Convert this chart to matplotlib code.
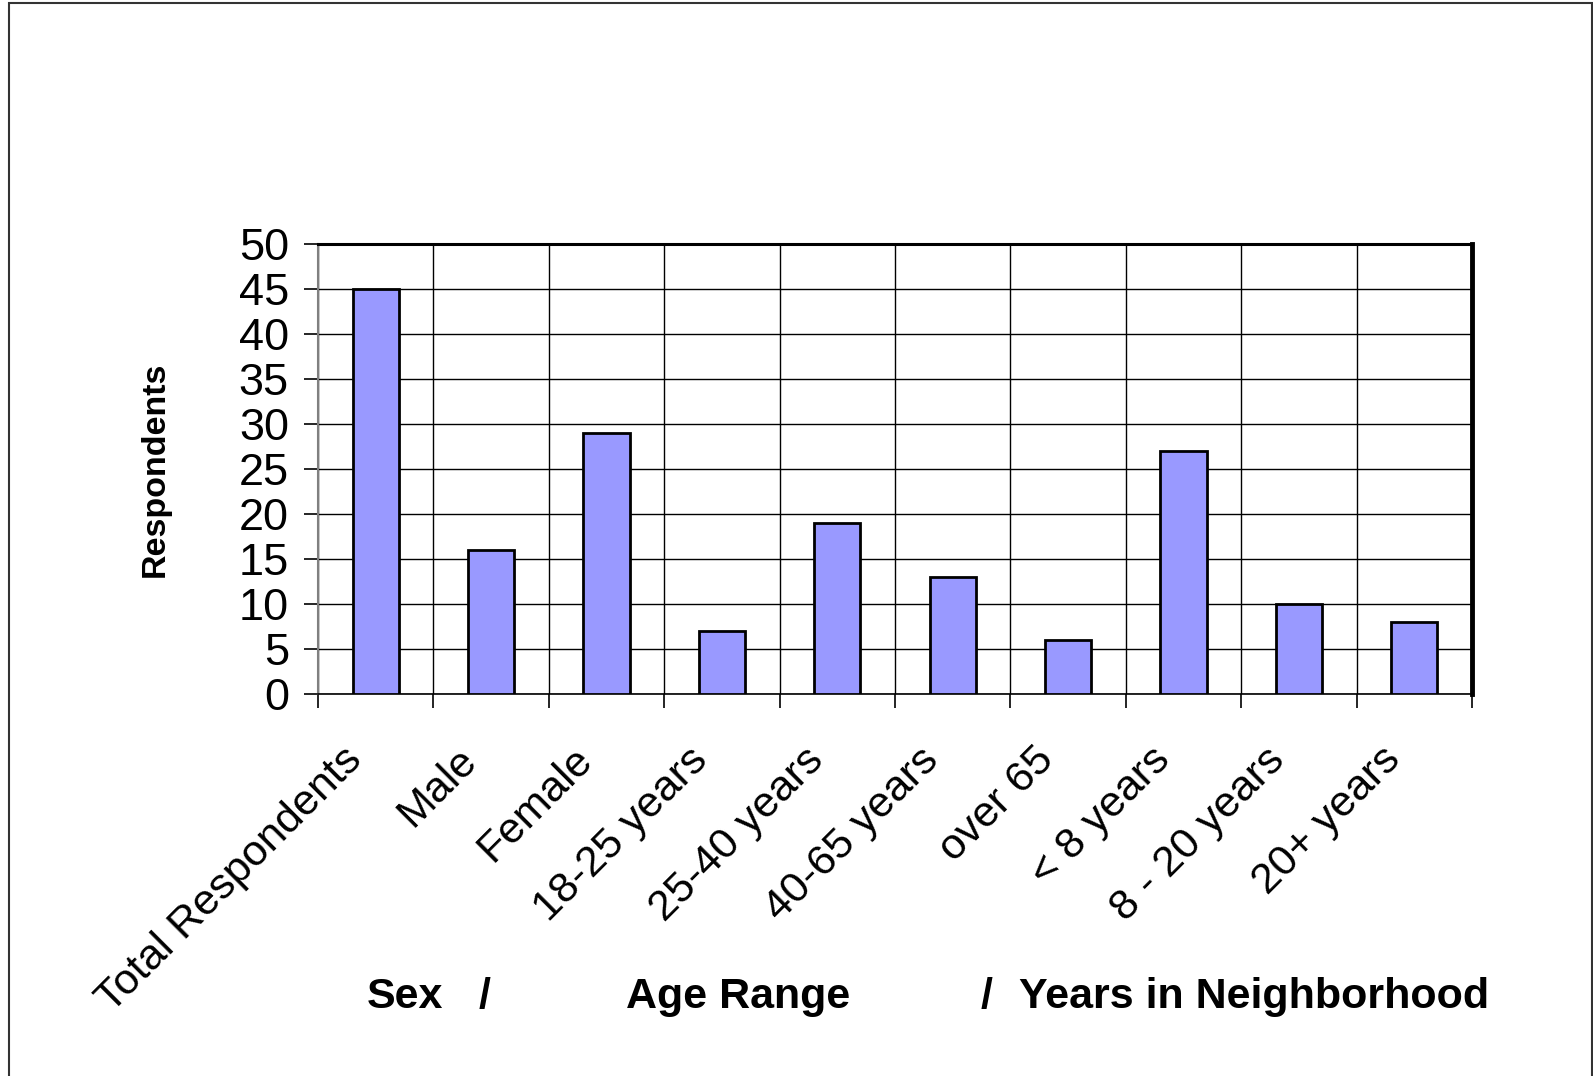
import matplotlib
matplotlib.use("Agg")
import matplotlib.pyplot as plt
from matplotlib.patches import Rectangle
import matplotlib.transforms as mtransforms
import numpy as np

categories = ["Total Respondents", "Male", "Female", "18-25 years", "25-40 years",
              "40-65 years", "over 65", "< 8 years", "8 - 20 years", "20+ years"]
values = [45, 16, 29, 7, 19, 13, 6, 27, 10, 8]
y_ticks = [0, 5, 10, 15, 20, 25, 30, 35, 40, 45, 50]

plt.rcParams['font.family'] = ['Liberation Sans', 'DejaVu Sans']

W, H = 1593, 1076
fig = plt.figure(figsize=(W / 100, H / 100), dpi=100)
ax = fig.add_axes([318 / W, 1 - 694 / H, (1472 - 318) / W, (694 - 244) / H])

n = len(categories)
x = np.arange(n)
ax.bar(x, values, width=0.4, color="#9999ff", edgecolor="black", linewidth=2, zorder=3)

ax.set_xlim(-0.5, n - 0.5)
ax.set_ylim(0, 50)
ax.set_yticks(y_ticks)
ax.set_yticklabels([str(v) for v in y_ticks], fontsize=32.5)
ax.tick_params(axis='y', length=10, width=1.2, color='black', pad=11)

# major ticks at centers (labels), minor at boundaries (marks + gridlines)
ax.set_xticks(x)
ax.set_xticklabels(categories, fontsize=31, rotation=45, ha='right', va='center',
                   rotation_mode='anchor')
ax.tick_params(axis='x', which='major', length=0, pad=46)
offset = mtransforms.ScaledTranslation(-20 / 100, 4 / 100, fig.dpi_scale_trans)
for lab in ax.get_xticklabels():
    lab.set_transform(lab.get_transform() + offset)
ax.set_xticks(np.arange(-0.5, n, 1.0), minor=True)
ax.tick_params(axis='x', which='minor', length=10, width=1.2, color='black')

ax.yaxis.grid(True, color='black', linewidth=1.0, zorder=0)
ax.xaxis.grid(True, which='minor', color='black', linewidth=1.0, zorder=0)
ax.set_axisbelow(True)

ax.spines['left'].set_color('#808080')
ax.spines['left'].set_linewidth(1.5)
ax.spines['bottom'].set_color('black')
ax.spines['bottom'].set_linewidth(1.2)
ax.spines['top'].set_color('black')
ax.spines['top'].set_linewidth(2.2)
ax.spines['right'].set_color('black')
ax.spines['right'].set_linewidth(3.5)

fig.text(155 / W, 1 - 469 / H, "Respondents", rotation=90, fontsize=24.5,
         fontweight='bold', ha='center', va='center')

yb = 1 - 997 / H
fig.text(367 / W, yb, "Sex", fontsize=31, fontweight='bold', ha='left', va='center')
fig.text(485 / W, yb, "/", fontsize=31, fontweight='bold', ha='center', va='center')
fig.text(626 / W, yb, "Age Range", fontsize=31, fontweight='bold', ha='left', va='center')
fig.text(987 / W, yb, "/", fontsize=31, fontweight='bold', ha='center', va='center')
fig.text(1019 / W, yb, "Years in Neighborhood", fontsize=31, fontweight='bold',
         ha='left', va='center')

# outer frame (bottom edge lies beyond the image)
fig.patches.append(Rectangle((9 / W, -10 / H), (1592 - 9) / W, (1073 + 10) / H,
                             transform=fig.transFigure, fill=False,
                             edgecolor='#333333', linewidth=1.5))

fig.savefig("out.png", dpi=100)
